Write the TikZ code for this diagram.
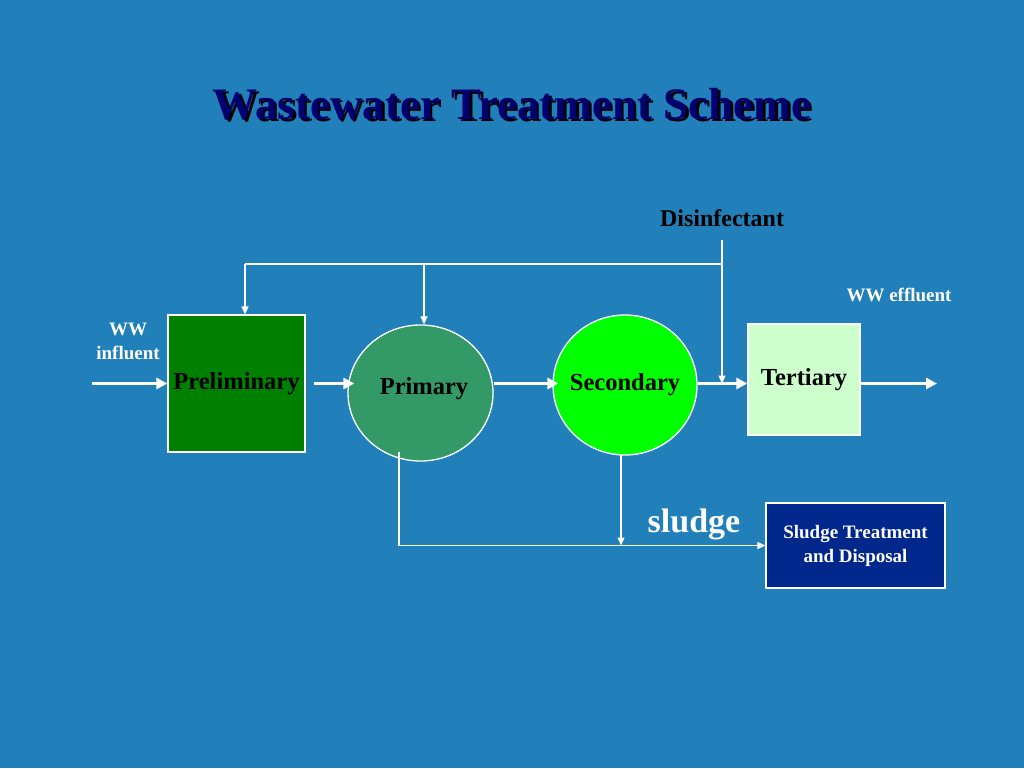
\documentclass[tikz,border=0pt]{standalone}
\usepackage{fontspec}
\setmainfont{Liberation Serif}
\usetikzlibrary{arrows.meta,shapes.geometric}
\definecolor{bgblue}{RGB}{33,128,185}
\definecolor{titleblue}{RGB}{0,0,112}
\definecolor{prelimgreen}{RGB}{0,128,0}
\definecolor{primarygreen}{RGB}{51,153,102}
\definecolor{secondarygreen}{RGB}{0,255,0}
\definecolor{tertiarygreen}{RGB}{204,255,204}
\definecolor{sludgeblue}{RGB}{0,40,140}

\begin{document}
\begin{tikzpicture}[x=1pt,y=-1pt,
  stage/.style={draw=white, line width=1.3pt, inner sep=0pt, text=black,
    font=\fontsize{24.5}{28}\selectfont\bfseries},
  roundstage/.style={stage, ellipse},
  stagetext/.style={text=black, inner sep=0pt, font=\fontsize{24.5}{28}\selectfont\bfseries},
  whitetext/.style={text=white, inner sep=0pt, align=center,
    font=\fontsize{19}{24}\selectfont\bfseries},
  flow/.style={white, line width=3pt, -{Triangle[length=11pt,width=11pt]}},
  feed/.style={white, line width=1.3pt, -{Triangle[length=8pt,width=7pt]}},
  pipe/.style={white, line width=1.3pt}]
\fill [bgblue] (0,0) rectangle (1024,768);
\node [text=black, font=\fontsize{45}{50}\selectfont\bfseries] at (514.5,106) {Wastewater Treatment Scheme};
\node [text=titleblue, font=\fontsize{45}{50}\selectfont\bfseries] (title) at (512,104) {Wastewater Treatment Scheme};
\node [stage, fill=prelimgreen, minimum width=137pt, minimum height=137pt] (prelim) at (236.5,383.5) {Preliminary};
\node [roundstage, fill=primarygreen, minimum width=145pt, minimum height=136pt] (primary) at (420.5,393) {};
\node [stagetext] (primarytext) at (424,389) {Primary};
\node [roundstage, fill=secondarygreen, minimum width=144pt, minimum height=140pt] (secondary) at (625,385) {};
\node [stagetext] (secondarytext) at (625,385) {Secondary};
\node [stage, fill=tertiarygreen, minimum width=112pt, minimum height=111pt] (tertiary) at (804,379.5) {Tertiary};
\node [stage, fill=sludgeblue, text=white, align=center, minimum width=179pt, minimum height=85pt,
  font=\fontsize{19}{24}\selectfont\bfseries] (sludgebox) at (855.5,545.5) {Sludge Treatment\\and Disposal};
\node [whitetext] (influent) at (128,341) {WW\\influent};
\node [whitetext] (effluent) at (899,295) {WW effluent};
\node [whitetext, text=black, font=\fontsize{24}{28}\selectfont\bfseries] (disinf) at (722,218) {Disinfectant};
\node [whitetext, font=\fontsize{34}{38}\selectfont\bfseries] (sludge) at (694,524) {sludge};
\coordinate (in) at (92,383.5);
\coordinate (out) at (937,383.5);
\coordinate (dtop) at (722,240);
\coordinate (bus) at (722,264);
\coordinate (tap1) at (245,264);
\coordinate (tap2) at (424,264);
\coordinate (sl1) at (399,452);
\coordinate (sl2) at (621,455);
\draw [flow] (in) -- (prelim.west);
\draw [flow, shorten <=8pt, shorten >=-7pt] (prelim.east) -- (prelim.east -| primary.west);
\draw [flow, shorten >=-6pt] (primary.east |- prelim.east) -- (secondary.west |- prelim.east);
\draw [flow] (secondary.east |- prelim.east) -- (tertiary.west |- prelim.east);
\draw [flow] (tertiary.east |- prelim.east) -- (out);
\draw [feed] (dtop) -- (dtop |- prelim.east);
\draw [pipe] (bus) -- (tap1);
\draw [feed] (tap1) -- (tap1 |- prelim.north);
\draw [feed] (tap2) -- (tap2 |- primary.north);
\draw [feed] (sl1) |- (sludgebox.west);
\draw [feed] (sl2) -- (sl2 |- sludgebox.west);
\end{tikzpicture}
\end{document}
